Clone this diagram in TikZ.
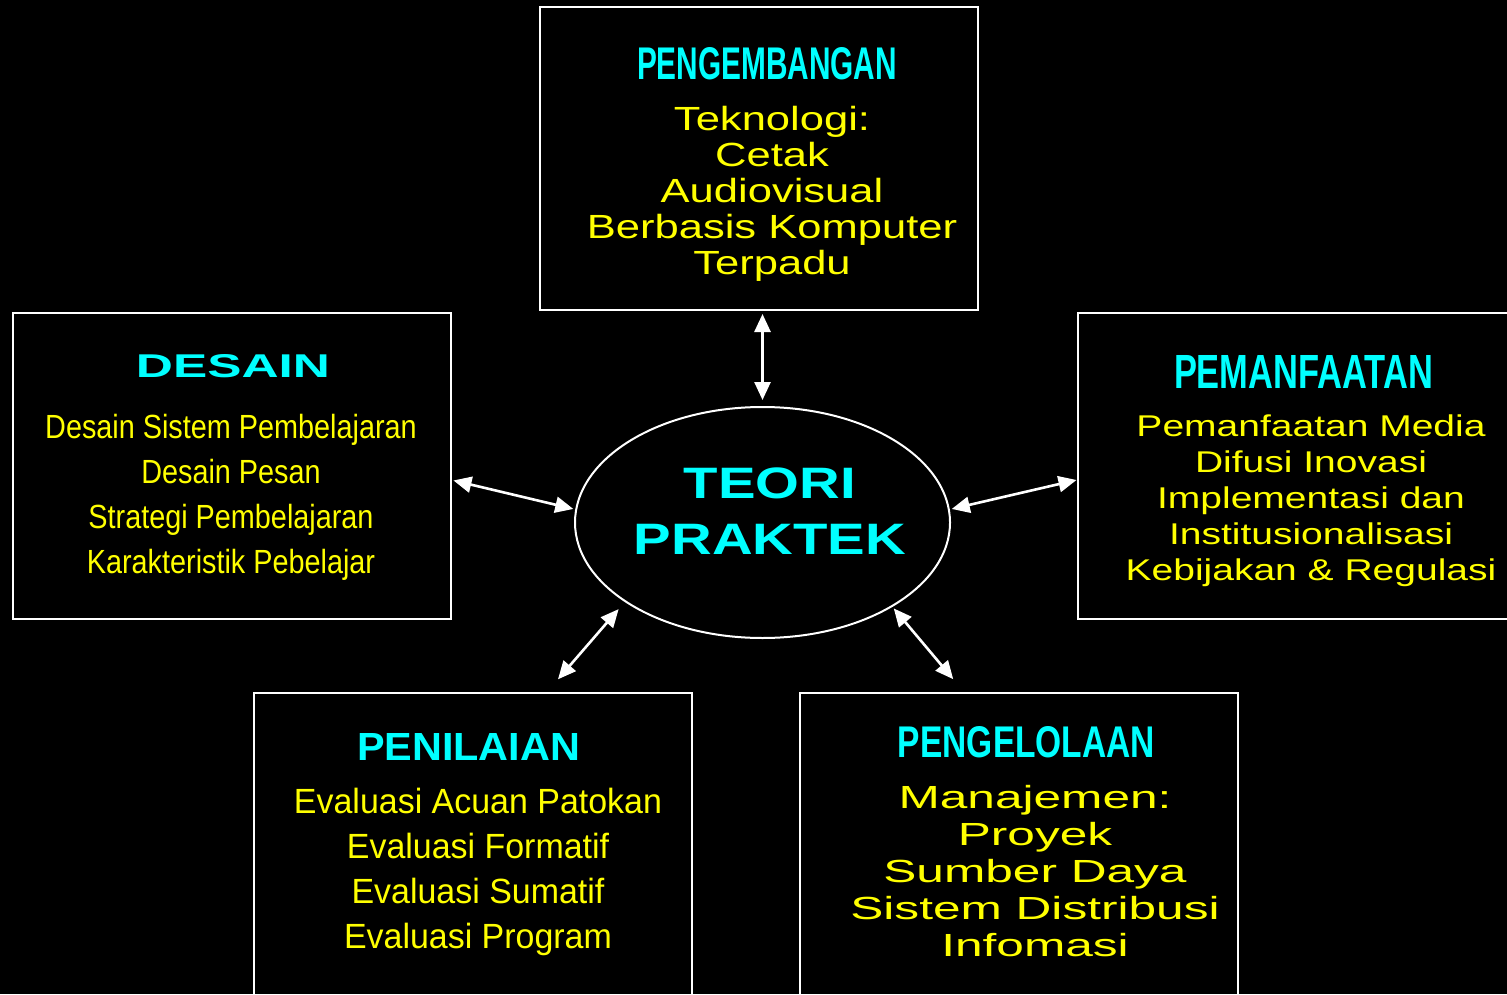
\documentclass[tikz,border=0pt]{standalone}
\usepackage{fontspec}
\usepackage{graphicx}
\setmainfont{Liberation Sans}
\newfontfamily\fontsempit[FakeStretch=0.86]{Liberation Sans}
\newfontfamily\fontbiasa[FakeStretch=0.97]{Liberation Sans}
\newfontfamily\fontlebar[FakeStretch=1.3]{Liberation Sans}
\newfontfamily\fontlebarb[FakeStretch=1.3]{Liberation Sans}
\newfontfamily\fontlebarc[FakeStretch=1.55]{Liberation Sans}
\newfontfamily\fontpusat[FakeStretch=1.28]{Liberation Sans}
\usetikzlibrary{shapes.geometric,arrows.meta}
\definecolor{judulcyan}{RGB}{0,255,255}
\definecolor{isikuning}{RGB}{255,255,0}
\tikzset{
  kotak/.style={draw=white, line width=1pt, minimum width=219pt, minimum height=153pt, inner sep=0pt},
  judul/.style={text=judulcyan, inner sep=0pt},
  isi/.style={text=isikuning, align=center, inner sep=0pt},
  panah/.style={white, line width=1.3pt, >={Triangle[length=9pt,width=8pt]}, <->},
}
\newcommand{\judulteks}[3]{\resizebox{#1pt}{#2pt}{\bfseries #3}}

\begin{document}
\begin{tikzpicture}[x=0.5pt,y=-0.5pt]
                \useasboundingbox (0,0) rectangle (1507,994);
                \fill[black] (0,0) rectangle (1507,994);
                % kotak-kotak
                \node[kotak, minimum height=151.5pt] (devbox) at (759,158.5) {};
                \node[kotak] (desbox) at (231.5,466) {};
                \node[kotak] (usebox) at (1296.5,466) {};
                \node[kotak] (penbox) at (473,846) {};
                \node[kotak] (mgtbox) at (1019,846) {};
                \node[draw=white, line width=1pt, ellipse, minimum width=187.5pt, minimum height=115.5pt, inner sep=0pt] (teori) at (762.5,522.5) {};
                % judul
                \node[judul] (devjudul) at (767,64) {\judulteks{130}{16}{PENGEMBANGAN}};
                \node[judul] (desjudul) at (233,366.5) {\judulteks{97}{11.5}{DESAIN}};
                \node[judul] (usejudul) at (1303.5,371.5) {\judulteks{129.5}{16.5}{PEMANFAATAN}};
                \node[judul] (penjudul) at (468.5,746.5) {\judulteks{111.5}{13.5}{PENILAIAN}};
                \node[judul] (mgtjudul) at (1026.5,742.5) {\judulteks{128.5}{15.5}{PENGELOLAAN}};
                \node[judul, align=center, font={\fontpusat\bfseries\fontsize{22pt}{28pt}\selectfont}] (teoriteks) at (770,511) {TEORI\\PRAKTEK};
                % isi
                \node[isi, font={\fontlebar\fontsize{16.75pt}{18pt}\selectfont}] (devisi) at (772,194)
                    {Teknologi:\\Cetak\\Audiovisual\\Berbasis Komputer\\Terpadu};
                \node[isi, font={\fontsempit\fontsize{16.75pt}{22.5pt}\selectfont}] (desisi) at (231,497)
                    {Desain Sistem Pembelajaran\\Desain Pesan\\Strategi Pembelajaran\\Karakteristik Pebelajar};
                \node[isi, font={\fontlebarb\fontsize{15pt}{18pt}\selectfont}] (useisi) at (1311,501)
                    {Pemanfaatan Media\\Difusi Inovasi\\Implementasi dan\\Institusionalisasi\\Kebijakan \& Regulasi};
                \node[isi, font={\fontbiasa\fontsize{17.5pt}{22.5pt}\selectfont}] (penisi) at (478,871.5)
                    {Evaluasi Acuan Patokan\\Evaluasi Formatif\\Evaluasi Sumatif\\Evaluasi Program};
                \node[isi, font={\fontlebarc\fontsize{16pt}{18.5pt}\selectfont}] (mgtisi) at (1035,871.5)
                    {Manajemen:\\Proyek\\Sumber Daya\\Sistem Distribusi\\Infomasi};
                % panah
                \draw[panah, shorten <=1.5pt, shorten >=3pt] (teori.north |- devbox.south) -- (teori.north);
                \draw[panah, shorten <=1pt, shorten >=1pt] ([yshift=-7pt]desbox.east) -- (teori.176);
                \draw[panah, shorten <=1pt] (teori.4) -- ([yshift=-7pt]usebox.west);
                \draw[panah, shorten <=4.7pt, shorten >=8.4pt] (teori.210) -- ([xshift=37pt]penbox.north);
                \draw[panah, shorten <=1pt, shorten >=8.4pt] (teori.327) -- ([xshift=-27.5pt]mgtbox.north);
            \end{tikzpicture}
\end{document}
